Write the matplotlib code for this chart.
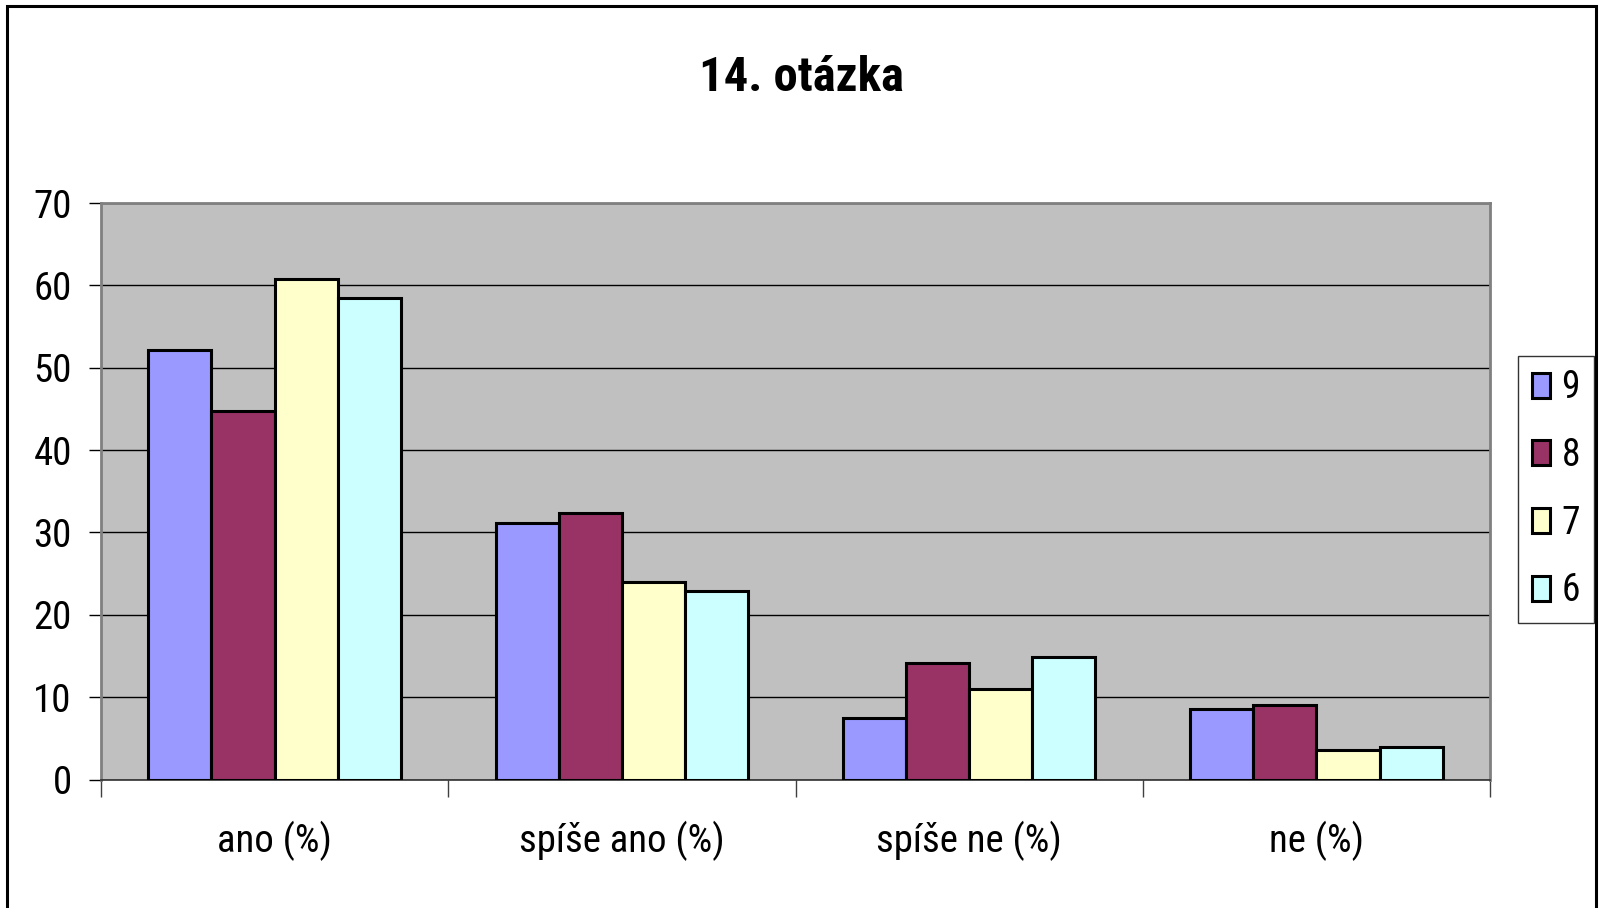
import matplotlib
matplotlib.use("Agg")
import matplotlib.pyplot as plt
from matplotlib.patches import Rectangle
import numpy as np

plt.rcParams['font.family'] = ['Liberation Sans Narrow', 'Roboto Condensed',
                               'Open Sans Condensed', 'Liberation Sans', 'DejaVu Sans']

title = "14. otázka"
categories = ["ano (%)", "spíše ano (%)", "spíše ne (%)", "ne (%)"]
series = ["9", "8", "7", "6"]
values = {
    "9": [52.1, 31.2, 7.5, 8.6],
    "8": [44.7, 32.3, 14.1, 9.0],
    "7": [60.8, 24.0, 11.0, 3.6],
    "6": [58.5, 22.9, 14.9, 3.9],
}
colors = ["#9999FF", "#993366", "#FFFFCC", "#CCFFFF"]
yticks = [0, 10, 20, 30, 40, 50, 60, 70]

W, H = 1602, 908
fig = plt.figure(figsize=(W / 100, H / 100), dpi=100)
ax = fig.add_axes([101 / W, 1 - 779.5 / H, (1490 - 101) / W, (779.5 - 203) / H])

# outer chart border (bottom edge falls outside the image)
fig.patches.append(Rectangle((7 / W, -0.05), (1596 - 7) / W, 1.05 - 6 / H,
                             transform=fig.transFigure, fill=False,
                             edgecolor="black", linewidth=2.2))

ax.set_facecolor("#C0C0C0")
n = len(series)
bw = 1 / 5.5
x = np.arange(len(categories))
for i, (s, c) in enumerate(zip(series, colors)):
    offs = (i - (n - 1) / 2) * bw
    ax.bar(x + 0.5 + offs, values[s], width=bw, color=c, edgecolor="black",
           linewidth=2.2, label=s, zorder=3)

ax.set_xlim(0, len(categories))
ax.set_ylim(0, 70)
ax.set_yticks(yticks)
ax.set_yticklabels([str(v) for v in yticks], fontsize=28)
ax.yaxis.grid(True, color="black", linewidth=1.0, zorder=1)
ax.set_axisbelow(True)

ax.set_xticks(np.arange(len(categories) + 1))
ax.set_xticklabels([])
ax.set_xticks(x + 0.5, minor=True)
ax.set_xticklabels(categories, minor=True, fontsize=28)
ax.tick_params(axis="x", which="major", length=12, width=1, color="#404040")
ax.tick_params(axis="x", which="minor", length=0, pad=30)
ax.tick_params(axis="y", length=9, width=1, color="black", pad=12)

for side in ["top", "right", "left"]:
    ax.spines[side].set_color("#808080")
    ax.spines[side].set_linewidth(2)
ax.spines["bottom"].set_color("#303030")
ax.spines["bottom"].set_linewidth(1.2)

fig.text(0.5, 1 - 78 / H, title, ha="center", va="center",
         fontsize=35, fontweight="bold")

leg = ax.legend(loc="upper left", bbox_to_anchor=(1518 / W, 1 - 355.7 / H),
                bbox_transform=fig.transFigure, borderaxespad=0,
                fontsize=27, frameon=True, fancybox=False,
                handlelength=0.5, handleheight=0.65, handletextpad=0.3,
                labelspacing=0.82, borderpad=0.36)
leg.get_frame().set_edgecolor("black")
leg.get_frame().set_linewidth(1.0)

fig.savefig("out.png", dpi=100)
